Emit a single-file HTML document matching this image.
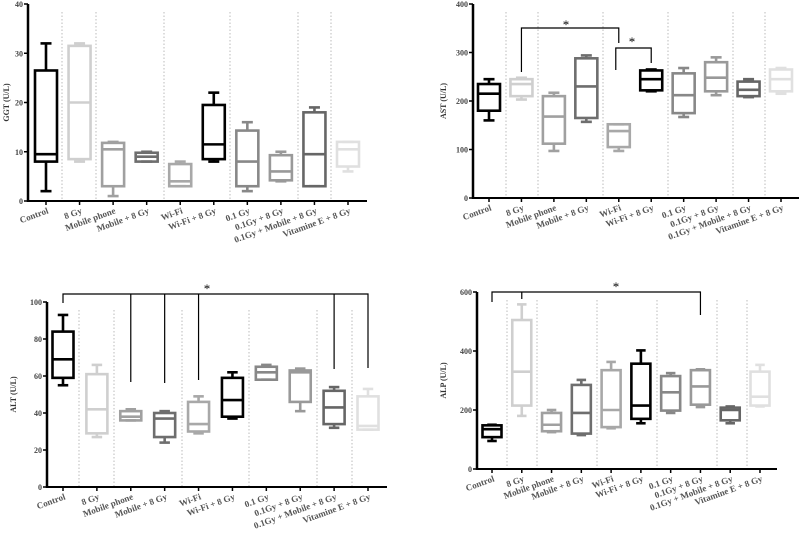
<!DOCTYPE html>
<html><head><meta charset="utf-8">
<style>
html,body{margin:0;padding:0;background:#fff;}
svg{display:block;}
text{font-family:"Liberation Serif",serif;}
</style></head>
<body>
<svg id="fig" width="799" height="542" viewBox="0 0 799 542" xmlns="http://www.w3.org/2000/svg"></svg>
<script>
const categories = ["Control","8 Gy","Mobile phone","Mobile + 8 Gy","Wi-Fi","Wi-Fi + 8 Gy","0.1 Gy","0.1Gy + 8 Gy","0.1Gy + Mobile + 8 Gy","Vitamine E + 8 Gy"];
// [min, q1, median, q3, max]
const ggtStats = [[2,8,9.5,26.5,32],[8,8.5,20,31.5,32],[1,3,10.5,11.8,12],[8,8,9,9.8,10],[3,3,4,7.5,8],[8,8.5,11.5,19.5,22],[2,3,8,14.3,16],[4,4.2,6,9.3,10],[3,3,9.5,18,19],[6,7,10.5,12,12]];
const astStats = [[160,180,215,235,245],[203,210,235,245,248],[97,112,168,210,217],[157,165,230,288,294],[97,105,138,152,152],[220,222,245,263,265],[167,175,212,257,268],[212,220,248,280,290],[208,210,223,240,245],[215,220,245,265,268]];
const altStats = [[55,59,69,84,93],[27,29,42,61,66],[36,36,38,41,42],[24,27,37,40,41],[29,30,34,46,49],[37,38,47,59,62],[58,58,62,65,66],[41,46,62,63,64],[32,34,43,52,54],[31,31,33,49,53]];
const alpStats = [[95,108,135,148,150],[180,215,330,505,558],[125,128,150,190,200],[115,120,190,285,302],[138,142,200,335,363],[155,170,215,357,402],[190,198,260,315,325],[210,218,280,335,338],[155,165,200,208,212],[212,215,245,330,353]];
const ggtTicks = [0,10,20,30,40];
const astTicks = [0,100,200,300,400];
const altTicks = [0,20,40,60,80,100];
const alpTicks = [0,200,400,600];

const colors = ["#000","#cfcfcf","#a0a0a0","#6e6e6e","#a8a8a8","#000","#888","#999","#666","#e0e0e0"];
const NS="http://www.w3.org/2000/svg";
const svg=document.getElementById('fig');
function mk(tag,attrs,parent){const e=document.createElementNS(NS,tag);for(const k in attrs)e.setAttribute(k,attrs[k]);(parent||svg).appendChild(e);return e;}

const panels=[
 {name:"ggt",title:"GGT (U/L)",stats:ggtStats,ticks:ggtTicks,ax:28,y0:201,y1:4,xEnd:367,c0:46,c9:348,bw:22,lblX:6,seps:[62,96,164,230,298,331]},
 {name:"ast",title:"AST (U/L)",stats:astStats,ticks:astTicks,ax:473,y0:198,y1:4,xEnd:799,c0:489,c9:781,bw:22,lblX:443,seps:[506,538,603,668,733,765]},
 {name:"alt",title:"ALT (U/L)",stats:altStats,ticks:altTicks,ax:47,y0:487,y1:302,xEnd:387,c0:63,c9:368,bw:21,lblX:13,seps:[79,114,182,249,317,352]},
 {name:"alp",title:"ALP (U/L)",stats:alpStats,ticks:alpTicks,ax:477,y0:469,y1:292,xEnd:777,c0:492,c9:760,bw:19,lblX:443,seps:[507,537,597,657,717,747]}
];

panels.forEach(p=>{
  const g=mk('g',{});
  
  
  const tMax=p.ticks[p.ticks.length-1];
  const y=v=>p.y0-(v/tMax)*(p.y0-p.y1);
  const x=i=>p.c0+i*(p.c9-p.c0)/(categories.length-1);
  p.x=x;p.y=y;
  p.seps.forEach(sx=>{const l=mk('line',{x1:sx,x2:sx,y1:p.y1+8,y2:p.y0,stroke:'#bbb','stroke-width':1,'stroke-dasharray':'1.5,2'},g);
    });
  const ya=mk('line',{x1:p.ax,x2:p.ax,y1:p.y1,y2:p.y0+1,stroke:'#000','stroke-width':2.5},g);
  
  const xa=mk('line',{x1:p.ax,x2:p.xEnd,y1:p.y0,y2:p.y0,stroke:'#000','stroke-width':2},g);
  
  p.ticks.forEach(t=>{
    mk('line',{x1:p.ax-4,x2:p.ax,y1:y(t),y2:y(t),stroke:'#000','stroke-width':1.5},g);
    const tl=mk('text',{x:p.ax-5,y:y(t)+3,'text-anchor':'end','font-size':8,'font-weight':'bold',fill:'#444'},g);
    tl.textContent=t;
    
  });
  const yt=mk('text',{x:0,y:0,'text-anchor':'middle','font-size':8,'font-weight':'bold',fill:'#333',transform:`translate(${p.lblX+3},${(p.y0+p.y1)/2}) rotate(-90)`},g);
  yt.textContent=p.title;
  
  categories.forEach((c,i)=>{
    const cx=x(i);
    mk('line',{x1:cx,x2:cx,y1:p.y0,y2:p.y0+4,stroke:'#000','stroke-width':1.5},g);
    const lb=mk('text',{x:0,y:0,'text-anchor':'end','font-size':9,'font-weight':'bold',fill:'#555',transform:`translate(${cx+3},${p.y0+12}) rotate(-20)`},g);
    lb.textContent=c;
    
    const s=p.stats[i];const col=colors[i];
    const bg=mk('g',{stroke:col,'stroke-width':2.6,fill:'none'},g);
    
    const hw=p.bw/2,cw=p.bw/4;
    mk('line',{x1:cx,x2:cx,y1:y(s[0]),y2:y(s[1])},bg);
    mk('line',{x1:cx,x2:cx,y1:y(s[3]),y2:y(s[4])},bg);
    mk('line',{x1:cx-cw,x2:cx+cw,y1:y(s[0]),y2:y(s[0])},bg);
    mk('line',{x1:cx-cw,x2:cx+cw,y1:y(s[4]),y2:y(s[4])},bg);
    mk('rect',{x:cx-hw,y:y(s[3]),width:p.bw,height:Math.max(0.5,y(s[1])-y(s[3]))},bg);
    mk('line',{x1:cx-hw,x2:cx+hw,y1:y(s[2]),y2:y(s[2])},bg);
  });
});

function bracket(path,star,nm){
  const pth=mk('path',{d:path,stroke:'#000','stroke-width':1.2,fill:'none'});
  
  const t=mk('text',{x:star[0],y:star[1],'text-anchor':'middle','font-size':13,'font-family':'Liberation Sans, sans-serif',fill:'#000'});
  t.textContent='*';
  
}
const A=panels[1],L=panels[2],P=panels[3];
bracket(`M${A.x(1)},72 V28 H${A.x(4)} V43`,[566,29],'ast-8gy-wifi');
bracket(`M${A.x(4)-3},70 V48 H${A.x(5)} V63`,[632,46],'ast-wifi-wifi8gy');
bracket(`M${L.x(0)},303 V294 H${L.x(9)} V368 M${L.x(2)},294 V382 M${L.x(3)},294 V383 M${L.x(4)},294 V380 M${L.x(8)},294 V369`,[207,293],'alt-control');
bracket(`M${P.x(0)},302 V292 H${P.x(7)} V315 M${P.x(1)},292 V299`,[616,291],'alp-control');
</script>
</body></html>
